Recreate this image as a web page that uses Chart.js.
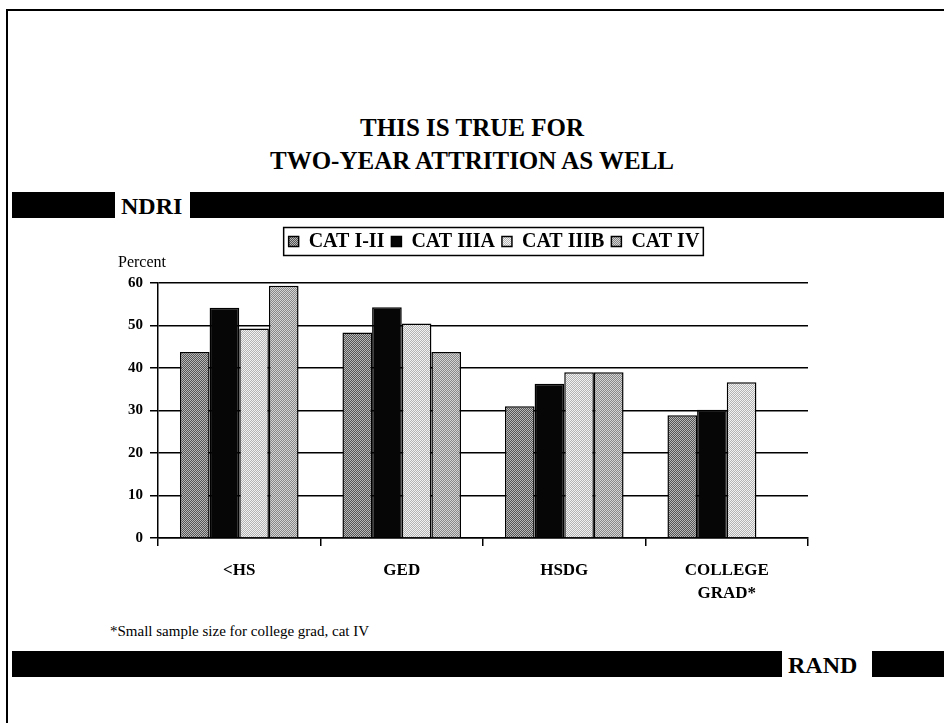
<!DOCTYPE html>
<html>
<head>
<meta charset="utf-8">
<script src="https://cdn.jsdelivr.net/npm/chart.js@4.4.1/dist/chart.umd.min.js"></script>
<style>
    html, body { margin: 0; padding: 0; background: #fff; width: 944px; height: 723px; overflow: hidden; font-family: "Liberation Serif", "DejaVu Serif", serif; color: #000; }
    .frame-left { position: absolute; left: 6px; top: 9px; width: 2px; height: 714px; background: #000; }
    .frame-top { position: absolute; left: 6px; top: 9px; width: 938px; height: 2px; background: #000; }
    .title { position: absolute; left: 0; top: 111px; width: 944px; text-align: center; font-weight: bold; font-size: 25px; line-height: 33px; }
    .band { position: absolute; background: #000; height: 26px; }
    .tag { position: absolute; font-weight: bold; font-size: 24px; line-height: 26px; }
    .note { position: absolute; left: 110px; top: 621px; font-size: 15px; line-height: 20px; }
    #wrap { position: absolute; left: 0; top: 220px; width: 944px; height: 405px; }
</style>
</head>
<body>
<div class="frame-left"></div>
<div class="frame-top"></div>
<div class="title">THIS IS TRUE FOR<br>TWO-YEAR ATTRITION AS WELL</div>

<div class="band" style="left:12px; top:192px; width:103px;"></div>
<div class="tag" style="left:121px; top:193px;">NDRI</div>
<div class="band" style="left:190px; top:192px; width:754px;"></div>

<div class="note">*Small sample size for college grad, cat IV</div>

<div class="band" style="left:12px; top:651px; width:770px;"></div>
<div class="tag" style="left:788px; top:652px;">RAND</div>
<div class="band" style="left:872px; top:651px; width:72px;"></div>

<div id="wrap"><canvas id="chart" width="944" height="405"></canvas></div>

<script>
// categories and series
const categories = ['<HS', 'GED', 'HSDG', ['COLLEGE', 'GRAD*']];
const seriesNames = ['CAT I-II', 'CAT IIIA', 'CAT IIIB', 'CAT IV'];
const catI_II = [43.8, 48.4, 31.0, 28.9];
const catIIIA = [54.2, 54.3, 36.3, 30.2];
const catIIIB = [49.3, 50.5, 39.0, 36.7];
const catIV = [59.4, 43.8, 39.0, null];   // small sample, not shown
const yMin = 0, yMax = 60, yStep = 10;

const serif = '"Liberation Serif", "DejaVu Serif", serif';

// halftone-ish fill, like the scanned slide
function dither(c1, c2) {
    const c = document.createElement('canvas');
    c.width = 2; c.height = 2;
    const g = c.getContext('2d');
    g.fillStyle = c1; g.fillRect(0, 0, 2, 2);
    g.fillStyle = c2; g.fillRect(0, 0, 1, 1); g.fillRect(1, 1, 1, 1);
    return g.createPattern(c, 'repeat');
}

const fills = [
    dither('#555555', '#b8b8b8'),
    '#060606',
    dither('#b4b4b4', '#f2f2f2'),
    dither('#888888', '#d4d4d4')
];
const seriesValues = [catI_II, catIIIA, catIIIB, catIV];

const legendFrame = {
    id: 'legendFrame',
    afterLayout(chart) {
        // legend sits a bit right of the plot centre on the slide
        const lg = chart.legend;
        const dx = 494 - (lg.left + lg.right) / 2;
        lg.left += dx;
        lg.right += dx;
    },
    afterDraw(chart) {
        const hb = chart.legend.legendHitBoxes;
        if (!hb || !hb.length) return;
        const l = Math.min(...hb.map(h => h.left)) - 5;
        const r = Math.max(...hb.map(h => h.left + h.width)) + 4;
        const t = hb[0].top - 4;
        const b = hb[0].top + hb[0].height + 4;
        const ctx = chart.ctx;
        ctx.save();
        ctx.strokeStyle = '#000';
        ctx.lineWidth = 1.5;
        ctx.strokeRect(l, t, r - l, b - t);
        ctx.restore();
    }
};

new Chart(document.getElementById('chart'), {
    type: 'bar',
    data: {
        labels: categories,
        datasets: seriesNames.map((name, i) => ({
            label: name,
            data: seriesValues[i],
            backgroundColor: fills[i],
            borderColor: '#000',
            borderWidth: 1.5,
            categoryPercentage: 0.73,
            barPercentage: 1.0
        }))
    },
    options: {
        responsive: false,
        animation: false,
        layout: { padding: { left: 118, right: 136, top: 4.5, bottom: 7 } },
        plugins: {
            legend: {
                position: 'top',
                labels: {
                    color: '#000',
                    font: { family: serif, size: 20, weight: 'bold' },
                    boxWidth: 10,
                    boxHeight: 10,
                    padding: 7
                }
            },
            title: {
                display: true,
                text: 'Percent',
                align: 'start',
                weight: 500,
                color: '#000',
                font: { family: serif, size: 16, weight: 'normal', lineHeight: 1.2 },
                padding: { top: -8, bottom: 10.4 }
            },
            tooltip: { enabled: false }
        },
        scales: {
            x: {
                grid: { offset: true, drawOnChartArea: false, drawTicks: true, tickLength: 8, color: '#000', lineWidth: 1.5 },
                border: { color: '#000', width: 1.5 },
                ticks: {
                    color: '#000',
                    font: { family: serif, size: 17, weight: 'bold', lineHeight: 1.35 },
                    padding: 13,
                    maxRotation: 0,
                    autoSkip: false
                }
            },
            y: {
                min: yMin,
                max: yMax,
                afterFit: s => { s.width = 40; },
                grid: { color: '#000', lineWidth: 1.5, tickLength: 8 },
                border: { color: '#000', width: 1.5 },
                ticks: {
                    stepSize: yStep,
                    color: '#000',
                    padding: 7,
                    font: { family: serif, size: 15, weight: 'bold' }
                }
            }
        }
    },
    plugins: [legendFrame]
});
</script>
</body>
</html>
